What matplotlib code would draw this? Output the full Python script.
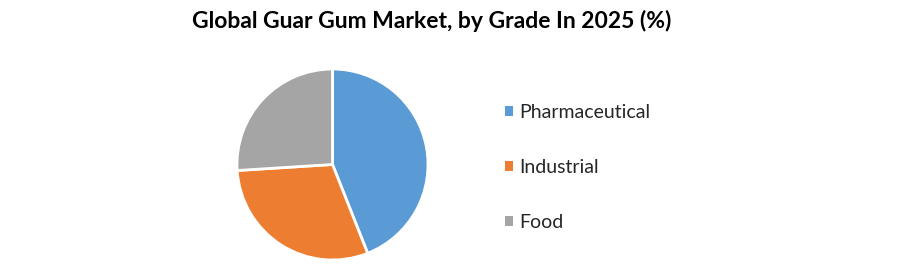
import matplotlib
matplotlib.use("Agg")
import matplotlib.pyplot as plt
from matplotlib.patches import Patch

categories = ["Pharmaceutical", "Industrial", "Food"]
values = [44, 30, 26]
colors = ["#5B9BD5", "#ED7D31", "#A5A5A5"]
title = "Global Guar Gum Market, by Grade In 2025 (%)"

W, H = 909, 279
fig = plt.figure(figsize=(W / 100, H / 100), dpi=100)
fig.patch.set_facecolor("white")

cx, cy, r = 332.5, 164.5, 95.5
ax = fig.add_axes([(cx - r) / W, (H - cy - r) / H, 2 * r / W, 2 * r / H])
wedges, _ = ax.pie(values, colors=colors, startangle=90, counterclock=False,
                   wedgeprops=dict(edgecolor="white", linewidth=2))
ax.set_xlim(-1, 1)
ax.set_ylim(-1, 1)
ax.set_aspect("equal")
ax.axis("off")

fig.text(432 / W, 1 - 21 / H, title, ha="center", va="center",
         fontsize=16.5, fontweight="bold", family="Lato", color="black")

handles = [Patch(facecolor=c, edgecolor="none") for c in colors]
leg = fig.legend(handles, categories, loc="center left",
                 bbox_to_anchor=(505 / W, 1 - 167.5 / H), frameon=False,
                 borderpad=0, borderaxespad=0,
                 prop=dict(family="Lato", size=14), handlelength=0.42,
                 handleheight=0.42, handletextpad=0.3, labelspacing=1.95)
for t in leg.get_texts():
    t.set_color("#262626")

fig.savefig("out.png", dpi=100, facecolor="white")
